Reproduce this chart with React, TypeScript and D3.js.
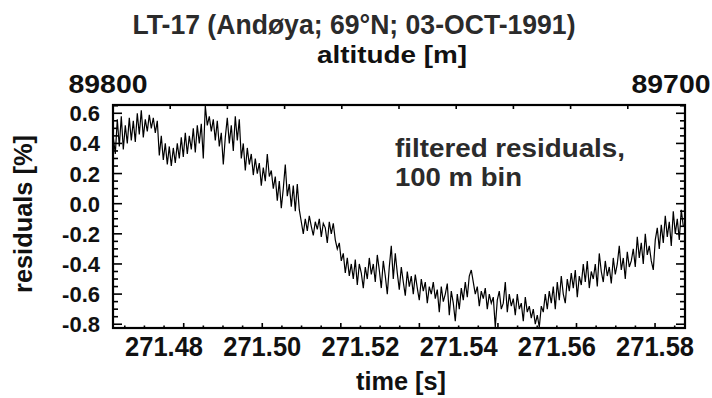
import React from "react";
import * as d3 from "d3";

// ---- data ----
const T_START = 271.46966; // s, first sample
const T_STEP = 0.00040733; // s, sample spacing
const residuals: number[] = [
  0.44, 0.33, 0.56, 0.38, 0.58, 0.36, 0.52, 0.40, 0.57, 0.42,
  0.55, 0.41, 0.60, 0.46, 0.62, 0.44, 0.56, 0.48, 0.59, 0.50,
  0.57, 0.47, 0.55, 0.32, 0.45, 0.29, 0.40, 0.26, 0.38, 0.25,
  0.37, 0.27, 0.40, 0.30, 0.44, 0.31, 0.47, 0.33, 0.45, 0.36,
  0.50, 0.34, 0.52, 0.40, 0.53, 0.30, 0.65, 0.52, 0.58, 0.48,
  0.56, 0.42, 0.55, 0.38, 0.47, 0.26, 0.44, 0.57, 0.40, 0.52,
  0.35, 0.58, 0.42, 0.56, 0.30, 0.40, 0.22, 0.37, 0.26, 0.33,
  0.19, 0.30, 0.20, 0.27, 0.12, 0.24, 0.15, 0.33, 0.18, 0.22,
  0.10, 0.18, 0.02, 0.15, -0.03, 0.10, 0.26, 0.05, 0.13, -0.02,
  0.12, -0.05, 0.13, -0.04, -0.12, -0.20, -0.10, -0.18, -0.08, -0.15,
  -0.21, -0.12, -0.17, -0.10, -0.22, -0.13, -0.16, -0.26, -0.12, -0.20,
  -0.13, -0.24, -0.30, -0.26, -0.38, -0.33, -0.46, -0.36, -0.48, -0.40,
  -0.50, -0.37, -0.54, -0.40, -0.46, -0.56, -0.42, -0.50, -0.36, -0.47,
  -0.40, -0.52, -0.34, -0.44, -0.56, -0.38, -0.48, -0.60, -0.42, -0.28,
  -0.50, -0.33, -0.46, -0.57, -0.42, -0.52, -0.61, -0.45, -0.55, -0.48,
  -0.60, -0.47, -0.56, -0.64, -0.50, -0.58, -0.52, -0.66, -0.55, -0.60,
  -0.52, -0.63, -0.57, -0.72, -0.55, -0.65, -0.60, -0.53, -0.74, -0.58,
  -0.66, -0.78, -0.60, -0.70, -0.56, -0.64, -0.52, -0.62, -0.48, -0.44,
  -0.52, -0.60, -0.55, -0.68, -0.58, -0.63, -0.56, -0.70, -0.60, -0.66,
  -0.62, -0.82, -0.64, -0.58, -0.70, -0.66, -0.52, -0.72, -0.60, -0.68,
  -0.63, -0.74, -0.60, -0.70, -0.66, -0.78, -0.62, -0.72, -0.68, -0.76,
  -0.70, -0.80, -0.74, -0.82, -0.68, -0.72, -0.60, -0.70, -0.58, -0.66,
  -0.55, -0.70, -0.52, -0.64, -0.48, -0.60, -0.66, -0.50, -0.58, -0.46,
  -0.56, -0.44, -0.62, -0.48, -0.54, -0.40, -0.52, -0.38, -0.56, -0.45,
  -0.50, -0.40, -0.55, -0.33, -0.45, -0.52, -0.38, -0.48, -0.42, -0.53,
  -0.36, -0.47, -0.40, -0.28, -0.44, -0.36, -0.50, -0.32, -0.42, -0.38,
  -0.30, -0.42, -0.22, -0.36, -0.26, -0.40, -0.20, -0.34, -0.28, -0.38,
  -0.44, -0.24, -0.16, -0.30, -0.14, -0.26, -0.08, -0.22, -0.12, -0.28,
  -0.05, -0.20, -0.10, -0.24, -0.04, -0.15,
];

const timeDomain: [number, number] = [271.4696, 271.5861];
const residDomain: [number, number] = [-0.825, 0.655];
const altDomain: [number, number] = [89800, 89700];

const xTickLabels = [271.48, 271.5, 271.52, 271.54, 271.56, 271.58];
const xMajorTicks = [271.484, 271.5, 271.516, 271.532, 271.548, 271.564, 271.58];
const yTickLabels = [0.6, 0.4, 0.2, 0.0, -0.2, -0.4, -0.6, -0.8];
const altTicks = [89790, 89780, 89770, 89760, 89750, 89740, 89730, 89720, 89710];

const TITLE = "LT-17 (Andøya; 69°N; 03-OCT-1991)";
const X_LABEL = "time [s]";
const Y_LABEL = "residuals [%]";
const TOP_LABEL = "altitude [m]";
const NOTE = ["filtered residuals,", "100 m bin"];

type TxtProps = {
  x: number;
  y: number;
  size: number;
  len?: number;
  anchor?: "start" | "middle" | "end";
  fill?: string;
  rotate?: number;
  children: React.ReactNode;
};

function Txt({ x, y, size, len, anchor = "start", fill = "#111", rotate, children }: TxtProps) {
  return (
    <text
      transform={`translate(${x},${y})${rotate ? ` rotate(${rotate})` : ""}`}
      fontSize={size}
      textAnchor={anchor}
      fill={fill}
      textLength={len}
      lengthAdjust={len ? "spacingAndGlyphs" : undefined}
    >
      {children}
    </text>
  );
}

export default function App() {
  const W = 712, H = 398;
  const L = 113, R = 685, T = 105, B = 328;

  const x = d3.scaleLinear().domain(timeDomain).range([L, R]);
  const y = d3.scaleLinear().domain(residDomain).range([B, T]);
  const xa = d3.scaleLinear().domain(altDomain).range([L, R]);

  const pts: [number, number][] = residuals.map((v, i) => [T_START + i * T_STEP, v]);
  const line = d3.line<[number, number]>().x((d) => x(d[0])).y((d) => y(d[1]));

  const xMinor = d3.range(271.472, 271.586, 0.004).filter(
    (t) => !xMajorTicks.some((m) => Math.abs(m - t) < 1e-6)
  );
  const yMinor = d3.range(-0.8, 0.651, 0.05).filter(
    (v) => !yTickLabels.some((m) => Math.abs(m - v) < 1e-6)
  );

  const font = "'Liberation Sans', Arial, Helvetica, sans-serif";

  return (
    <svg
      width={W}
      height={H}
      style={{ position: "absolute", left: 0, top: 0, background: "#fff" }}
      fontFamily={font}
      fontWeight="bold"
    >
      <rect x={0} y={0} width={W} height={H} fill="#fff" />
      {/* data line */}
      <path d={line(pts) || ""} fill="none" stroke="#000" strokeWidth={1.2} />

      {/* ticks */}
      <g stroke="#000" strokeWidth={1.6}>
        {yTickLabels.map((v) => (
          <g key={"ym" + v}>
            <line x1={L} x2={L + 9} y1={y(v)} y2={y(v)} />
            <line x1={R} x2={R - 9} y1={y(v)} y2={y(v)} />
          </g>
        ))}
        {yMinor.map((v) => (
          <g key={"yn" + v}>
            <line x1={L} x2={L + 5} y1={y(v)} y2={y(v)} />
            <line x1={R} x2={R - 5} y1={y(v)} y2={y(v)} />
          </g>
        ))}
        {xMajorTicks.map((t) => (
          <line key={"xm" + t} x1={x(t)} x2={x(t)} y1={B} y2={B - 5} />
        ))}
        {xMinor.map((t) => (
          <line key={"xn" + t} x1={x(t)} x2={x(t)} y1={B} y2={B - 2.5} />
        ))}
        {altTicks.map((a) => (
          <line key={"a" + a} x1={xa(a)} x2={xa(a)} y1={T} y2={T + 4} />
        ))}
      </g>

      {/* frame */}
      <rect x={L} y={T} width={R - L} height={B - T} fill="none" stroke="#000" strokeWidth={2.2} />

      {/* y tick labels */}
      {yTickLabels.map((v) => (
        <Txt key={"yl" + v} x={100} y={y(v) + 8} size={22} anchor="end">
          {v.toFixed(1)}
        </Txt>
      ))}
      {/* x tick labels */}
      {xTickLabels.map((t) => (
        <Txt key={"xl" + t} x={x(t)} y={356} size={27} len={78} anchor="middle">
          {t.toFixed(2)}
        </Txt>
      ))}
      {/* altitude end labels */}
      <Txt x={108} y={93} size={25} len={79} anchor="middle">
        {altDomain[0]}
      </Txt>
      <Txt x={671} y={93} size={25} len={79} anchor="middle">
        {altDomain[1]}
      </Txt>

      <Txt x={392} y={63} size={24} len={150} anchor="middle">
        {TOP_LABEL}
      </Txt>
      <Txt x={354} y={34} size={27} len={443} anchor="middle" fill="#2b2b2b">
        {TITLE}
      </Txt>
      <Txt x={401} y={390} size={25} len={90} anchor="middle">
        {X_LABEL}
      </Txt>
      <Txt x={32} y={214} size={25} len={158} anchor="middle" rotate={-90}>
        {Y_LABEL}
      </Txt>
      <Txt x={395} y={157} size={26} len={230} fill="#2b2b2b">
        {NOTE[0]}
      </Txt>
      <Txt x={395} y={186} size={26} len={127} fill="#2b2b2b">
        {NOTE[1]}
      </Txt>
    </svg>
  );
}
